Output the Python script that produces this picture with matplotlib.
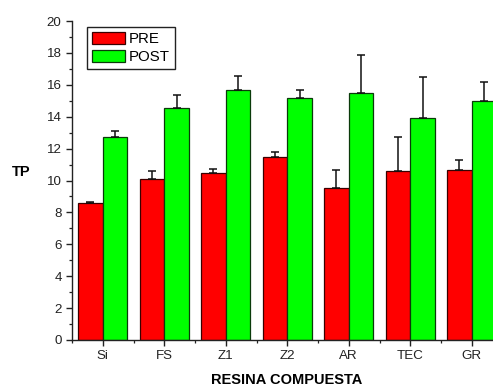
import numpy as np
import matplotlib
matplotlib.use('Agg')
import matplotlib.pyplot as plt
from matplotlib.ticker import MultipleLocator

plt.rcParams['font.family'] = ['Liberation Sans', 'DejaVu Sans']

resinas = ['Si', 'FS', 'Z1', 'Z2', 'AR', 'TEC', 'GR']
pre = [8.6, 10.07, 10.45, 11.5, 9.5, 10.6, 10.68]
pre_err = [0.05, 0.5, 0.3, 0.3, 1.15, 2.1, 0.62]
post = [12.7, 14.53, 15.67, 15.19, 15.47, 13.9, 14.97]
post_err = [0.42, 0.83, 0.9, 0.5, 2.4, 2.6, 1.23]

fig = plt.figure(figsize=(4.93, 3.87), dpi=100)
# the frame runs past the right edge of the figure on purpose
ax = fig.add_axes([72/493, 47/387, 430.5/493, 319/387])

x = np.arange(1, len(resinas) + 1)
w = 0.4
err_kw = dict(ecolor='#111111', elinewidth=1.1, capsize=2.6, capthick=1.1)

ax.bar(x - w/2, pre, w, color='#ff0000', edgecolor='#3a0000', linewidth=0.9,
       yerr=[np.zeros(len(pre)), pre_err], error_kw=err_kw, label='PRE')
ax.bar(x + w/2, post, w, color='#00ff00', edgecolor='#0a3a0a', linewidth=0.9,
       yerr=[np.zeros(len(post)), post_err], error_kw=err_kw, label='POST')

ax.set_xlim(0.5, 7.5)
ax.set_ylim(0, 20)
ax.set_xticks(x)
ax.set_xticklabels(resinas)
ax.xaxis.set_minor_locator(MultipleLocator(1, offset=0.5))
ax.yaxis.set_major_locator(MultipleLocator(2))
ax.yaxis.set_minor_locator(MultipleLocator(1))

for s in ['top', 'right']:
    ax.spines[s].set_visible(False)
for s in ['left', 'bottom']:
    ax.spines[s].set_linewidth(1.0)
    ax.spines[s].set_color('#222222')

ax.tick_params(which='major', direction='out', length=4, width=1.0,
               labelsize=9.6, pad=3.5, colors='#222222')
ax.tick_params(which='minor', direction='out', length=2.3, width=0.9,
               colors='#222222')

fig.text(21/493, 1 - 172/387, 'TP', fontsize=10.5, fontweight='bold',
         ha='center', va='center')
fig.text(287/493, 1 - 380.5/387, 'RESINA COMPUESTA', fontsize=10.5,
         fontweight='bold', ha='center', va='center')

leg = ax.legend(loc='upper left', bbox_to_anchor=(87/493, 1 - 27/387),
                bbox_transform=fig.transFigure, borderaxespad=0,
                fontsize=10.8, fancybox=False, framealpha=1,
                handlelength=2.2, handleheight=0.9, handletextpad=0.3,
                labelspacing=0.25, borderpad=0.3)
leg.get_frame().set_edgecolor('#222222')
leg.get_frame().set_linewidth(1.0)

fig.savefig('out.png', dpi=100)
